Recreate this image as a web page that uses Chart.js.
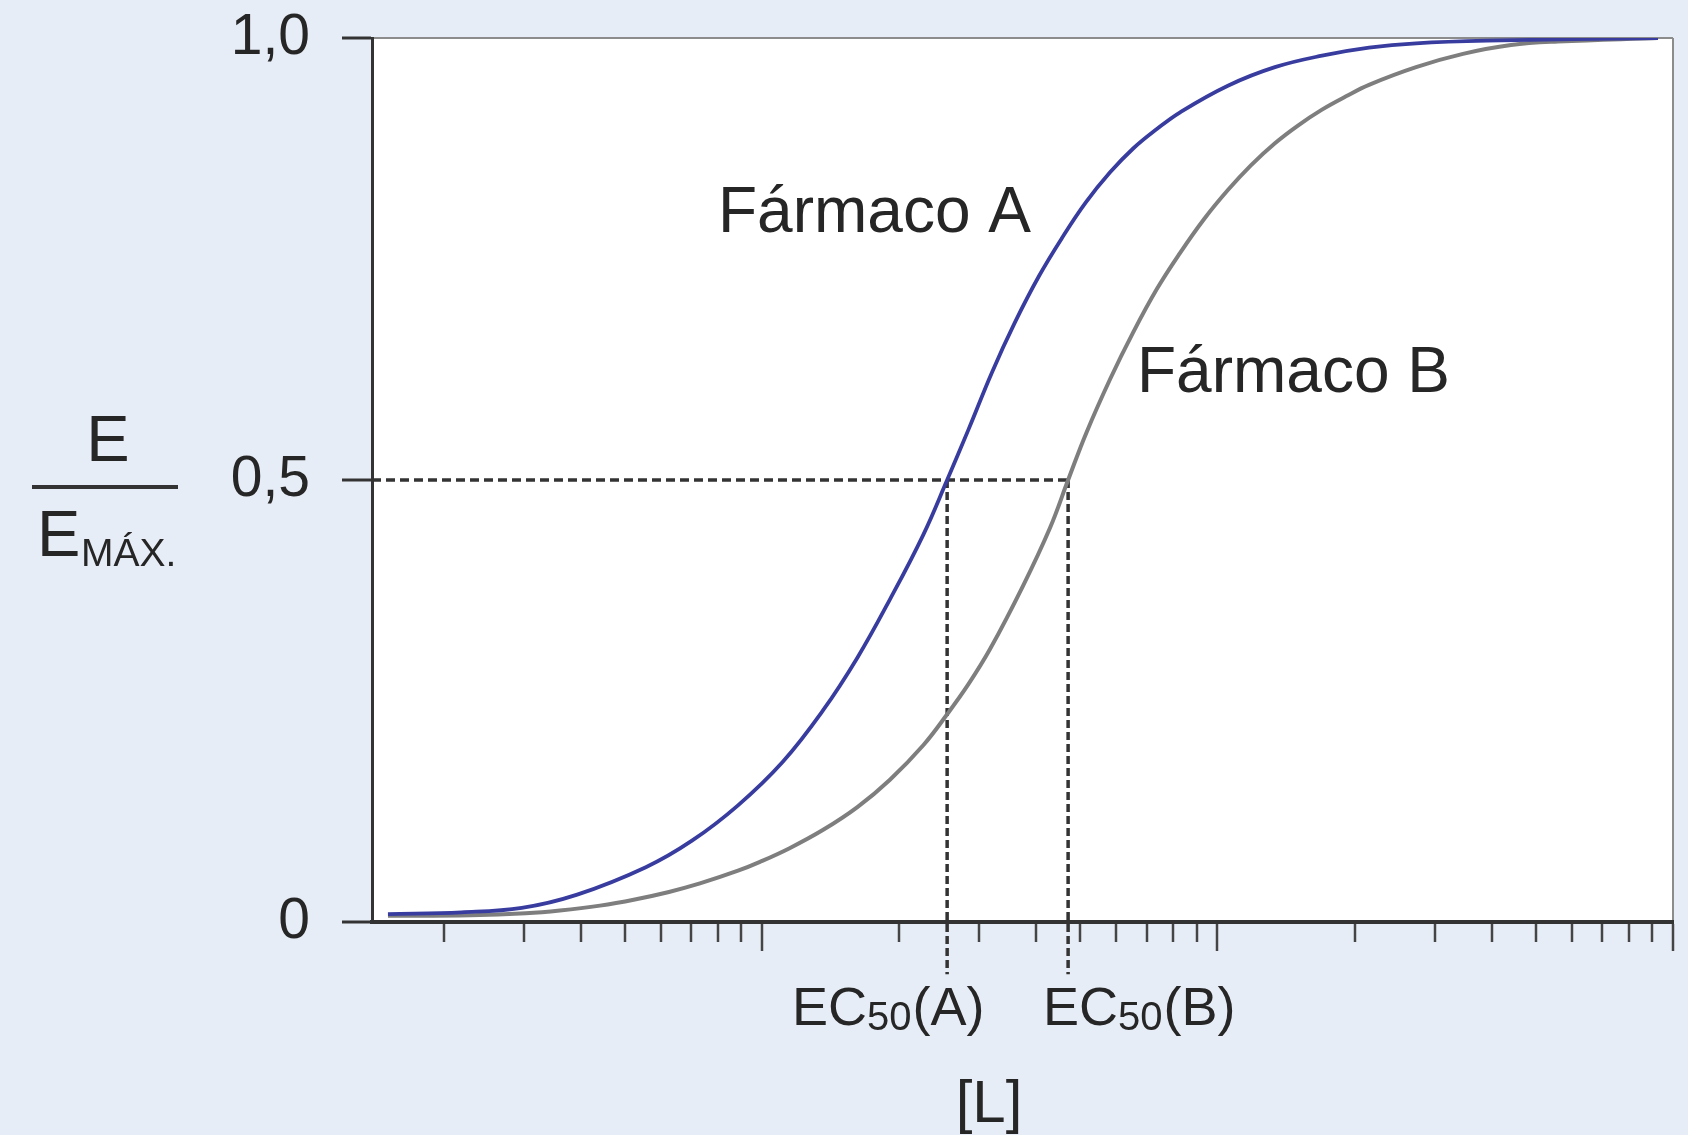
<!DOCTYPE html>
<html>
<head>
<meta charset="utf-8">
<script src="https://cdn.jsdelivr.net/npm/chart.js@4.4.1/dist/chart.umd.min.js"></script>
<style>
html,body{margin:0;padding:0;background:#e7edf6;}
canvas{display:block;}
</style>
</head>
<body>
<canvas id="c" width="1688" height="1135"></canvas>
<script>
// ---- data ----
const curveNames = ['Fármaco A', 'Fármaco B'];
const concA = [1.51, 2.19, 2.97, 3.93, 5.56, 7.02, 8.86, 11.1, 13.6, 16.2, 19.1, 22.6, 25.5, 28.4, 32.0, 35.9, 40.6, 45.6, 51.4, 58.1, 65.3, 73.6, 82.8, 105.4, 133.7, 169.6, 215.1, 272.9, 390.7, 927];
const effA  = [0.009, 0.011, 0.016, 0.031, 0.062, 0.092, 0.132, 0.181, 0.239, 0.299, 0.365, 0.438, 0.500, 0.557, 0.622, 0.678, 0.731, 0.774, 0.814, 0.848, 0.875, 0.897, 0.916, 0.946, 0.967, 0.980, 0.989, 0.994, 0.997, 1.000];
const concB = [1.51, 2.29, 3.03, 3.60, 4.41, 5.26, 6.25, 7.31, 8.86, 9.90, 11.5, 13.6, 16.2, 19.1, 22.6, 25.5, 28.4, 31.7, 37.4, 42.9, 47.0, 51.5, 58.1, 65.3, 73.6, 82.8, 93.4, 105.4, 118.4, 133.7, 150.2, 169.6, 191.5, 215.1, 272.9, 345.9, 441, 559, 927];
const effB  = [0.007, 0.0076, 0.0098, 0.0129, 0.0185, 0.0255, 0.034, 0.0436, 0.058, 0.068, 0.0835, 0.104, 0.130, 0.161, 0.200, 0.235, 0.269, 0.309, 0.380, 0.446, 0.500, 0.553, 0.614, 0.667, 0.716, 0.757, 0.795, 0.828, 0.856, 0.881, 0.901, 0.919, 0.934, 0.947, 0.967, 0.982, 0.992, 0.996, 1.000];
const ec50Values = [25.5, 47.0];
const ec50Names = ['A', 'B'];
const halfEffect = 0.5;
const yTickValues = [0, 0.5, 1];
const yTickLabels = ['0', '0,5', '1,0'];
const xTickValues = [2,3,4,5,6,7,8,9,10,20,30,40,50,60,70,80,90,100,200,300,400,500,600,700,800,900,1000];
const xMajorTicks = [10, 100, 1000];
const xRange = [1.393, 1000];
const xAxisTitle = '[L]';

// ---- styling constants ----
const FONT = "'Liberation Sans', Arial, sans-serif";
const TEXT = '#262626';
const AXIS = '#333333';
const GUIDE_BOTTOM = -0.059; // guides run a little below the axis

const pts = (xs, ys) => xs.map((x, i) => ({x: x, y: ys[i]}));

const bgPlugin = {
  id: 'bg',
  beforeDraw(chart) {
    const {ctx, chartArea: a} = chart;
    ctx.save();
    ctx.fillStyle = '#e7edf6';
    ctx.fillRect(0, 0, chart.width, chart.height);
    ctx.fillStyle = '#ffffff';
    ctx.fillRect(a.left, a.top, a.right - a.left, a.bottom - a.top);
    ctx.restore();
  }
};

function drawEC(ctx, name, x, y) {
  ctx.font = '54px ' + FONT;
  ctx.fillText('EC', x, y);
  const w1 = ctx.measureText('EC').width;
  ctx.font = '40px ' + FONT;
  ctx.fillText('50', x + w1, y + 5);
  const w2 = ctx.measureText('50').width;
  ctx.font = '54px ' + FONT;
  ctx.fillText('(' + name + ')', x + w1 + w2 + 1, y);
}

const textPlugin = {
  id: 'texts',
  afterDraw(chart) {
    const ctx = chart.ctx;
    ctx.save();
    ctx.fillStyle = TEXT;
    ctx.textBaseline = 'alphabetic';
    ctx.textAlign = 'left';
    ctx.font = '64px ' + FONT;
    ctx.fillText(curveNames[0], 718, 232);
    ctx.fillText(curveNames[1], 1137, 392);
    drawEC(ctx, ec50Names[0], 792, 1025);
    drawEC(ctx, ec50Names[1], 1043, 1025);
    ctx.textAlign = 'center';
    ctx.font = '60px ' + FONT;
    ctx.fillText(xAxisTitle, 989, 1122);
    // y-axis title: E / E_MÁX.
    ctx.font = '65px ' + FONT;
    ctx.fillText('E', 108, 461);
    ctx.fillStyle = AXIS;
    ctx.fillRect(32, 485, 146, 4);
    ctx.fillStyle = TEXT;
    ctx.textAlign = 'left';
    ctx.fillText('E', 37, 556);
    ctx.font = '39px ' + FONT;
    ctx.fillText('MÁX.', 81, 566);
    ctx.restore();
  }
};

const guideStyle = {borderColor: AXIS, borderWidth: 3.5, pointRadius: 0, showLine: true, clip: false, tension: 0};

new Chart(document.getElementById('c'), {
  type: 'scatter',
  data: {
    datasets: [
      {label: curveNames[0], data: pts(concA, effA), borderColor: '#383c9e', borderWidth: 3.8, pointRadius: 0, showLine: true, tension: 0.4},
      {label: curveNames[1], data: pts(concB, effB), borderColor: '#7e7e7e', borderWidth: 4, pointRadius: 0, showLine: true, tension: 0.4},
      Object.assign({data: [{x: xRange[0], y: halfEffect}, {x: ec50Values[1], y: halfEffect}], borderDash: [9, 5]}, guideStyle),
      Object.assign({data: [{x: ec50Values[0], y: halfEffect}, {x: ec50Values[0], y: GUIDE_BOTTOM}], borderDash: [8, 4]}, guideStyle),
      Object.assign({data: [{x: ec50Values[1], y: halfEffect}, {x: ec50Values[1], y: GUIDE_BOTTOM}], borderDash: [8, 4]}, guideStyle)
    ]
  },
  options: {
    responsive: false,
    animation: false,
    devicePixelRatio: 1,
    layout: {padding: {left: 0, top: 38, right: 15, bottom: 0}},
    plugins: {legend: {display: false}, tooltip: {enabled: false}},
    scales: {
      x: {
        type: 'logarithmic',
        min: xRange[0],
        max: xRange[1],
        bounds: 'data',
        afterBuildTicks: s => { s.ticks = xTickValues.map(v => ({value: v, major: xMajorTicks.includes(v)})); },
        ticks: {display: false},
        grid: {
          drawOnChartArea: true,
          color: c => (c.tick && c.tick.value === xRange[1]) ? '#8c8c8c' : 'rgba(0,0,0,0)',
          lineWidth: 2,
          tickColor: '#454545',
          tickWidth: 2.5,
          tickLength: 29,
          tickBorderDash: c => (c.tick && xMajorTicks.includes(c.tick.value)) ? [] : [18, 40]
        },
        border: {display: true, color: AXIS, width: 4},
        afterFit: s => { s.height = 213; s.paddingLeft = 0; s.paddingRight = 0; }
      },
      y: {
        type: 'linear',
        min: 0,
        max: 1,
        afterBuildTicks: s => { s.ticks = yTickValues.map(v => ({value: v})); },
        ticks: {
          callback: (v, i) => yTickLabels[i],
          font: {family: FONT, size: 57},
          color: TEXT,
          padding: 32
        },
        grid: {
          drawOnChartArea: true,
          color: c => (c.tick && c.tick.value === 1) ? '#8c8c8c' : 'rgba(0,0,0,0)',
          lineWidth: 2,
          tickColor: AXIS,
          tickWidth: 3,
          tickLength: 30
        },
        border: {display: true, color: AXIS, width: 3},
        afterFit: s => { s.width = 372; s.paddingTop = 0; s.paddingBottom = 0; }
      }
    }
  },
  plugins: [bgPlugin, textPlugin]
});
</script>
</body>
</html>
